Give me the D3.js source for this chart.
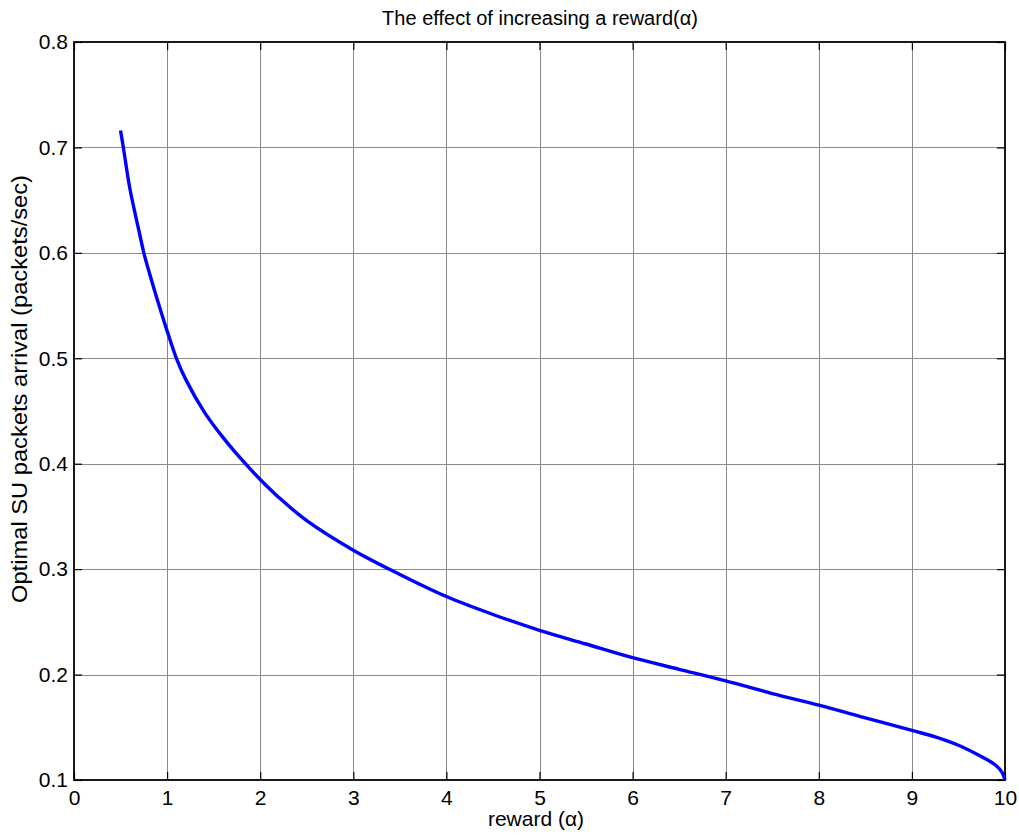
<!DOCTYPE html>
<html>
<head>
<meta charset="utf-8">
<script src="https://cdn.jsdelivr.net/npm/d3@7"></script>
<style>
  html, body { margin: 0; padding: 0; background: #fff; }
  svg { display: block; }
  text { font-family: "Liberation Sans", Arial, Helvetica, sans-serif; fill: #000; }
</style>
</head>
<body>
<svg id="chart" width="1019" height="836"></svg>
<script>
// ---- data ----
const rewardValues = [0.5, 0.53, 0.6, 0.7, 0.75, 0.8, 0.9, 1.0, 1.1, 1.2, 1.4, 1.6, 1.8, 2.0, 2.2, 2.5, 3.0, 3.5, 4.0, 4.5, 5.0, 5.5, 6.0, 6.5, 7.0, 7.5, 8.0, 8.5, 9.0, 9.25, 9.5, 9.75, 9.9, 9.97, 10.0];
const arrivalValues = [0.716, 0.700, 0.661, 0.620, 0.600, 0.584, 0.554, 0.526, 0.500, 0.480, 0.449, 0.425, 0.404, 0.385, 0.368, 0.346, 0.318, 0.295, 0.274, 0.257, 0.242, 0.229, 0.216, 0.205, 0.194, 0.182, 0.171, 0.159, 0.147, 0.141, 0.133, 0.122, 0.114, 0.107, 0.100];
const xTicks = [0, 1, 2, 3, 4, 5, 6, 7, 8, 9, 10];
const yTicks = [0.1, 0.2, 0.3, 0.4, 0.5, 0.6, 0.7, 0.8];
const titleText = "The effect of increasing a reward(α)";
const xLabelText = "reward (α)";
const yLabelText = "Optimal SU packets arrival (packets/sec)";

(function () {
// ---- layout ----
const W = 1019, H = 836;
const pL = 74, pR = 1005, pT = 42, pB = 780;
const svg = d3.select("#chart");
svg.append("rect").attr("width", W).attr("height", H).attr("fill", "#fff");

const x = d3.scaleLinear().domain([0, 10]).range([pL, pR]);
const y = d3.scaleLinear().domain([0.1, 0.8]).range([pB, pT]);

// grid
const grid = svg.append("g").attr("stroke", "#8a8a8a").attr("stroke-width", 1).attr("shape-rendering", "crispEdges");
grid.selectAll("line.vx").data(xTicks.slice(1, -1)).join("line")
  .attr("x1", d => Math.round(x(d)) + 0.5).attr("x2", d => Math.round(x(d)) + 0.5)
  .attr("y1", pT).attr("y2", pB);
grid.selectAll("line.hy").data(yTicks.slice(1, -1)).join("line")
  .attr("y1", d => Math.round(y(d)) + 0.5).attr("y2", d => Math.round(y(d)) + 0.5)
  .attr("x1", pL).attr("x2", pR);

// axes (ticks inward)
const tickLen = 8;
const xAxisB = d3.axisBottom(x).tickValues(xTicks).tickSize(-tickLen).tickPadding(10).tickFormat(d3.format("d"));
const xAxisT = d3.axisTop(x).tickValues(xTicks).tickSize(-tickLen).tickFormat("");
const yAxisL = d3.axisLeft(y).tickValues(yTicks).tickSize(-tickLen).tickPadding(6).tickFormat(d3.format(".1f"));
const yAxisR = d3.axisRight(y).tickValues(yTicks).tickSize(-tickLen).tickFormat("");

function styleAxis(g) {
  g.select(".domain").remove();
  g.selectAll(".tick line").attr("stroke", "#000").attr("stroke-width", 1.2);
  g.selectAll(".tick text").attr("font-size", 21).attr("font-family", "'Liberation Sans', Arial, sans-serif").attr("fill", "#000");
}
svg.append("g").attr("transform", `translate(0,${pB})`).call(xAxisB).call(styleAxis);
svg.append("g").attr("transform", `translate(0,${pT})`).call(xAxisT).call(styleAxis);
svg.append("g").attr("transform", `translate(${pL},0)`).call(yAxisL).call(styleAxis);
svg.append("g").attr("transform", `translate(${pR},0)`).call(yAxisR).call(styleAxis);

// box
svg.append("rect").attr("x", pL).attr("y", pT).attr("width", pR - pL).attr("height", pB - pT)
  .attr("fill", "none").attr("stroke", "#000").attr("stroke-width", 1.8);

// curve
const pts = rewardValues.map((r, i) => [r, arrivalValues[i]]);
const line = d3.line().x(d => x(d[0])).y(d => y(d[1])).curve(d3.curveCatmullRom.alpha(0.5));
svg.append("path").datum(pts).attr("d", line)
  .attr("fill", "none").attr("stroke", "#0000ff").attr("stroke-width", 3.4).attr("stroke-linejoin", "round");

// labels
svg.append("text").attr("x", 540).attr("y", 25).attr("text-anchor", "middle").attr("font-size", 20)
  .text(titleText);
svg.append("text").attr("x", 536).attr("y", 826).attr("text-anchor", "middle").attr("font-size", 21)
  .text(xLabelText);
svg.append("text").attr("transform", `translate(27,389) rotate(-90)`)
  .attr("text-anchor", "middle").attr("font-size", 22)
  .attr("textLength", 428).attr("lengthAdjust", "spacingAndGlyphs")
  .text(yLabelText);
})();
</script>
</body>
</html>
